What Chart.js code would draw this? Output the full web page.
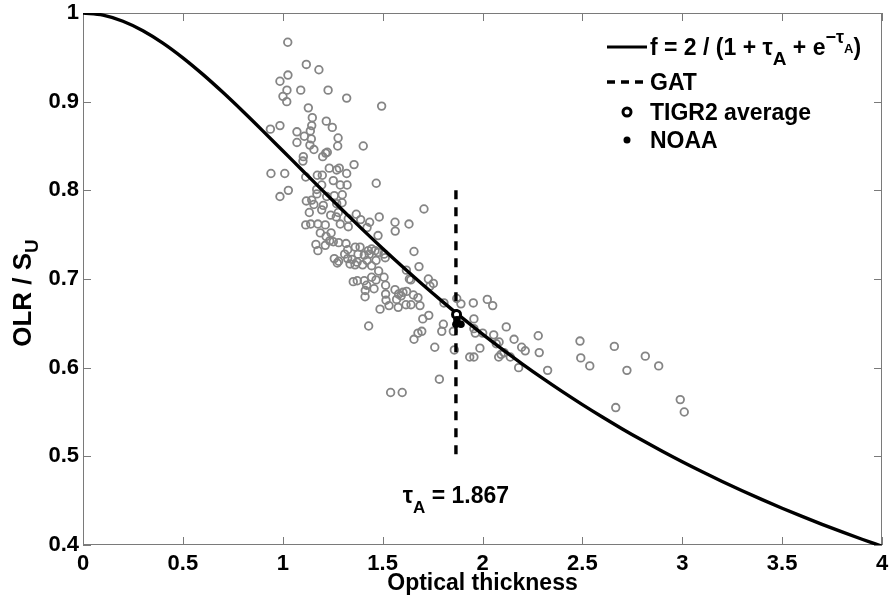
<!DOCTYPE html>
<html><head><meta charset="utf-8">
<script src="https://cdn.jsdelivr.net/npm/chart.js@4.4.0/dist/chart.umd.min.js"></script>
<style>html,body{margin:0;padding:0;background:#fff}#wrap{width:891px;height:599px;position:relative}</style>
</head><body><div id="wrap"><canvas id="c" width="891" height="599"></canvas></div>
<script>
// ---- curve f = 2/(1+tau+exp(-tau)) ----
const curveTau = [0,0.1,0.2,0.3,0.4,0.5,0.6,0.7,0.8,0.9,1.0,1.1,1.2,1.3,1.4,1.5,1.6,1.7,1.8,1.9,2.0,2.1,2.2,2.3,2.4,2.5,2.6,2.7,2.8,2.9,3.0,3.1,3.2,3.3,3.4,3.5,3.6,3.7,3.8,3.9,4.0];
const curveF = [1.0,0.99759,0.99072,0.98000,0.96604,0.94943,0.93075,0.91050,0.88915,0.86709,0.84464,0.82208,0.79962,0.77745,0.75569,0.73445,0.71380,0.69380,0.67447,0.65583,0.63789,0.62064,0.60408,0.58819,0.57295,0.55833,0.54433,0.53090,0.51802,0.50569,0.49385,0.48250,0.47161,0.46116,0.45113,0.44149,0.43222,0.42330,0.41473,0.40648,0.39854];

// ---- TIGR2 profiles (grey circles) ----
const profX = [1.025,1.118,1.181,1.026,0.986,1.021,1.090,1.227,1.001,1.020,1.320,1.495,1.128,1.148,1.218,1.248,1.145,0.986,0.938,1.071,1.108,1.138,1.277,1.143,1.071,1.136,1.275,1.403,1.156,1.215,1.223,1.200,1.103,1.101,1.357,1.233,1.270,1.283,1.320,1.468,0.941,1.010,1.115,1.173,1.198,1.253,1.288,1.322,1.195,1.170,1.028,0.986,1.171,1.220,1.258,1.298,1.118,1.145,1.297,1.270,1.156,1.203,1.707,1.133,1.195,1.240,1.278,1.268,1.368,1.328,1.390,1.435,1.483,1.562,1.632,1.115,1.140,1.176,1.213,1.288,1.328,1.422,1.563,1.188,1.242,1.217,1.477,1.235,1.253,1.280,1.166,1.213,1.176,1.317,1.325,1.363,1.387,1.428,1.445,1.462,1.433,1.478,1.507,1.513,1.657,1.310,1.377,1.408,1.258,1.280,1.325,1.347,1.372,1.422,1.467,1.273,1.337,1.400,1.445,1.480,1.619,1.682,1.445,1.507,1.634,1.641,1.729,1.754,1.737,1.353,1.373,1.408,1.420,1.515,1.457,1.413,1.515,1.562,1.580,1.602,1.620,1.654,1.677,1.412,1.517,1.570,1.593,1.617,1.642,1.687,1.532,1.487,1.578,1.701,1.731,1.430,1.677,1.696,1.657,1.761,1.784,1.540,1.598,1.807,1.804,1.796,1.871,1.892,1.954,2.024,2.051,1.854,1.957,1.957,1.964,2.001,2.056,2.069,2.083,2.119,2.158,1.859,1.936,1.957,1.987,2.081,2.093,2.108,2.139,2.181,2.196,2.214,2.279,2.284,2.326,2.488,2.492,2.537,2.660,2.723,2.815,2.882,2.667,2.990,3.010,1.467,1.362];
const profY = [0.967,0.942,0.936,0.930,0.923,0.913,0.913,0.913,0.906,0.900,0.904,0.895,0.893,0.882,0.878,0.871,0.873,0.873,0.869,0.866,0.861,0.867,0.859,0.858,0.854,0.851,0.850,0.850,0.846,0.842,0.843,0.838,0.838,0.833,0.829,0.825,0.823,0.825,0.819,0.808,0.819,0.819,0.815,0.817,0.817,0.811,0.806,0.806,0.806,0.801,0.800,0.793,0.796,0.793,0.794,0.795,0.788,0.789,0.786,0.785,0.784,0.783,0.779,0.775,0.778,0.772,0.775,0.770,0.773,0.768,0.767,0.764,0.770,0.764,0.762,0.761,0.762,0.762,0.761,0.762,0.759,0.758,0.754,0.752,0.752,0.748,0.749,0.743,0.742,0.741,0.739,0.738,0.732,0.740,0.733,0.736,0.736,0.732,0.734,0.732,0.728,0.730,0.728,0.724,0.731,0.728,0.728,0.727,0.723,0.720,0.723,0.722,0.719,0.721,0.721,0.718,0.717,0.716,0.715,0.709,0.710,0.714,0.702,0.702,0.700,0.699,0.700,0.695,0.692,0.697,0.698,0.698,0.693,0.693,0.689,0.687,0.683,0.688,0.683,0.685,0.686,0.682,0.679,0.680,0.676,0.677,0.681,0.671,0.671,0.670,0.670,0.666,0.668,0.655,0.659,0.647,0.639,0.641,0.632,0.623,0.587,0.572,0.572,0.673,0.649,0.641,0.678,0.672,0.673,0.677,0.670,0.641,0.655,0.644,0.639,0.639,0.637,0.627,0.629,0.646,0.632,0.620,0.612,0.612,0.622,0.612,0.615,0.617,0.612,0.600,0.623,0.619,0.636,0.617,0.597,0.630,0.611,0.602,0.624,0.597,0.613,0.602,0.555,0.564,0.550,0.699,0.716];

// ---- averages ----
const tigrAvgX = [1.870];
const tigrAvgY = [0.660];
const noaaX = [1.872, 1.892, 1.867];
const noaaY = [0.654, 0.649, 0.649];

// ---- GAT line ----
const gatTau = 1.867;
const gatY = [0.8, 0.5];
const gatLabelY = 0.447;

// ---- ticks ----
const xTicks = [0,0.5,1,1.5,2,2.5,3,3.5,4];
const xTickLabels = ['0','0.5','1','1.5','2','2.5','3','3.5','4'];
const yTicks = [0.4,0.5,0.6,0.7,0.8,0.9,1];
const yTickLabels = ['0.4','0.5','0.6','0.7','0.8','0.9','1'];

const FONT = '"Liberation Sans", Arial, Helvetica, sans-serif';
const zip = (xs, ys) => xs.map((v, i) => ({x: v, y: ys[i]}));

function drawRich(ctx, x, y, segs) {
  let cx = x;
  for (const s of segs) {
    ctx.font = 'bold ' + s.size + 'px ' + FONT;
    ctx.fillText(s.t, cx, y + (s.dy || 0));
    cx += ctx.measureText(s.t).width;
  }
  return cx;
}
function richWidth(ctx, segs) {
  let w = 0;
  for (const s of segs) { ctx.font = 'bold ' + s.size + 'px ' + FONT; w += ctx.measureText(s.t).width; }
  return w;
}

const framePlugin = {
  id: 'frame',
  beforeDatasetsDraw(chart) {
    const {ctx, chartArea: a, scales: {x, y}} = chart;
    ctx.save();
    ctx.strokeStyle = '#7a7a7a';
    ctx.lineWidth = 1;
    ctx.strokeRect(Math.round(a.left) + 0.5, Math.round(a.top) + 0.5, Math.round(a.right - a.left) - 1, Math.round(a.bottom - a.top) - 1);
    const L = 8;
    ctx.beginPath();
    for (const v of xTicks) {
      const px = Math.round(x.getPixelForValue(v)) + 0.5;
      ctx.moveTo(px, a.bottom); ctx.lineTo(px, a.bottom - L);
      ctx.moveTo(px, a.top); ctx.lineTo(px, a.top + L);
    }
    for (const v of yTicks) {
      const py = Math.round(y.getPixelForValue(v)) + 0.5;
      ctx.moveTo(a.left, py); ctx.lineTo(a.left + L, py);
      ctx.moveTo(a.right, py); ctx.lineTo(a.right - L, py);
    }
    ctx.stroke();
    ctx.restore();
  },
  afterDraw(chart) {
    const {ctx, chartArea: a, scales: {x, y}} = chart;
    ctx.save();
    ctx.fillStyle = '#000';
    ctx.textBaseline = 'alphabetic';
    ctx.textAlign = 'left';

    // y-axis title, rotated
    const ySegs = [{t: 'OLR / S', size: 26}, {t: 'U', size: 19, dy: 7}];
    const yw = richWidth(ctx, ySegs);
    ctx.save();
    ctx.translate(31, (a.top + a.bottom) / 2 + 14);
    ctx.rotate(-Math.PI / 2);
    drawRich(ctx, -yw / 2, 0, ySegs);
    ctx.restore();

    // tau_A annotation under GAT line
    const aSegs = [{t: 'τ', size: 23}, {t: 'A', size: 17, dy: 10}, {t: ' = 1.867', size: 23}];
    const aw = richWidth(ctx, aSegs);
    drawRich(ctx, x.getPixelForValue(gatTau) - aw / 2, y.getPixelForValue(gatLabelY), aSegs);

    // legend
    const lx0 = 607, lx1 = 647, tx = 650;
    ctx.strokeStyle = '#000';
    ctx.lineWidth = 3;
    ctx.beginPath(); ctx.moveTo(lx0, 47); ctx.lineTo(lx1, 47); ctx.stroke();
    drawRich(ctx, tx, 55, [
      {t: 'f = 2 / (1 + τ', size: 23}, {t: 'A', size: 19, dy: 10},
      {t: ' + e', size: 23}, {t: '−τ', size: 18, dy: -12}, {t: 'A', size: 13, dy: -2},
      {t: ')', size: 23}
    ]);
    ctx.setLineDash([8, 6]);
    ctx.lineWidth = 3.3;
    ctx.beginPath(); ctx.moveTo(lx0, 82); ctx.lineTo(lx1, 82); ctx.stroke();
    ctx.setLineDash([]);
    drawRich(ctx, tx, 90, [{t: 'GAT', size: 23}]);
    ctx.lineWidth = 3;
    ctx.beginPath(); ctx.arc(627, 112, 4, 0, Math.PI * 2); ctx.fillStyle = '#fff'; ctx.fill(); ctx.stroke();
    ctx.fillStyle = '#000';
    drawRich(ctx, tx, 120, [{t: 'TIGR2 average', size: 23}]);
    ctx.beginPath(); ctx.arc(627, 140, 3.5, 0, Math.PI * 2); ctx.fill();
    drawRich(ctx, tx, 148, [{t: 'NOAA', size: 23}]);
    ctx.restore();
  }
};

new Chart(document.getElementById('c'), {
  type: 'scatter',
  data: {
    datasets: [
      {label: 'NOAA', data: zip(noaaX, noaaY), order: 0, pointRadius: 3.8, pointBorderWidth: 0, pointBackgroundColor: '#000', borderColor: '#000'},
      {label: 'TIGR2 average', data: zip(tigrAvgX, tigrAvgY), order: 1, pointRadius: 4, pointBorderWidth: 3, pointBorderColor: '#000', pointBackgroundColor: '#fff'},
      {label: 'f', data: zip(curveTau, curveF), order: 2, showLine: true, borderColor: '#000', borderWidth: 3.4, pointRadius: 0, cubicInterpolationMode: 'monotone'},
      {label: 'GAT', data: gatY.map(v => ({x: gatTau, y: v})), order: 3, showLine: true, borderColor: '#000', borderWidth: 3.4, borderDash: [9, 8], pointRadius: 0},
      {label: 'TIGR2', data: zip(profX, profY), order: 4, pointRadius: 3.8, pointBorderWidth: 1.8, pointBorderColor: '#858585', pointBackgroundColor: 'rgba(0,0,0,0)'}
    ]
  },
  options: {
    responsive: false,
    animation: false,
    events: [],
    layout: {padding: {top: 13, right: 9, bottom: 0, left: 0}},
    plugins: {legend: {display: false}, tooltip: {enabled: false}},
    scales: {
      x: {
        type: 'linear', min: 0, max: 4,
        afterBuildTicks: s => { s.ticks = xTicks.map(v => ({value: v})); },
        afterFit: s => { s.height = 54; s.paddingLeft = 0; s.paddingRight = 0; },
        grid: {display: false, drawTicks: false},
        border: {display: false},
        ticks: {color: '#000', padding: 8, maxRotation: 0, autoSkip: false,
          font: {family: FONT, size: 22, weight: 'bold', lineHeight: 1},
          callback: (v, i) => xTickLabels[i]},
        title: {display: true, text: 'Optical thickness', color: '#000',
          font: {family: FONT, size: 23, weight: 'bold', lineHeight: 1.2}, padding: {top: 0, bottom: 2}}
      },
      y: {
        type: 'linear', min: 0.4, max: 1,
        afterBuildTicks: s => { s.ticks = yTicks.map(v => ({value: v})); },
        afterFit: s => { s.width = 83; s.paddingTop = 0; s.paddingBottom = 0; },
        grid: {display: false, drawTicks: false},
        border: {display: false},
        ticks: {color: '#000', padding: 4, autoSkip: false,
          font: {family: FONT, size: 22, weight: 'bold', lineHeight: 1},
          callback: (v, i) => yTickLabels[i]}
      }
    }
  },
  plugins: [framePlugin]
});
</script>
</body></html>
